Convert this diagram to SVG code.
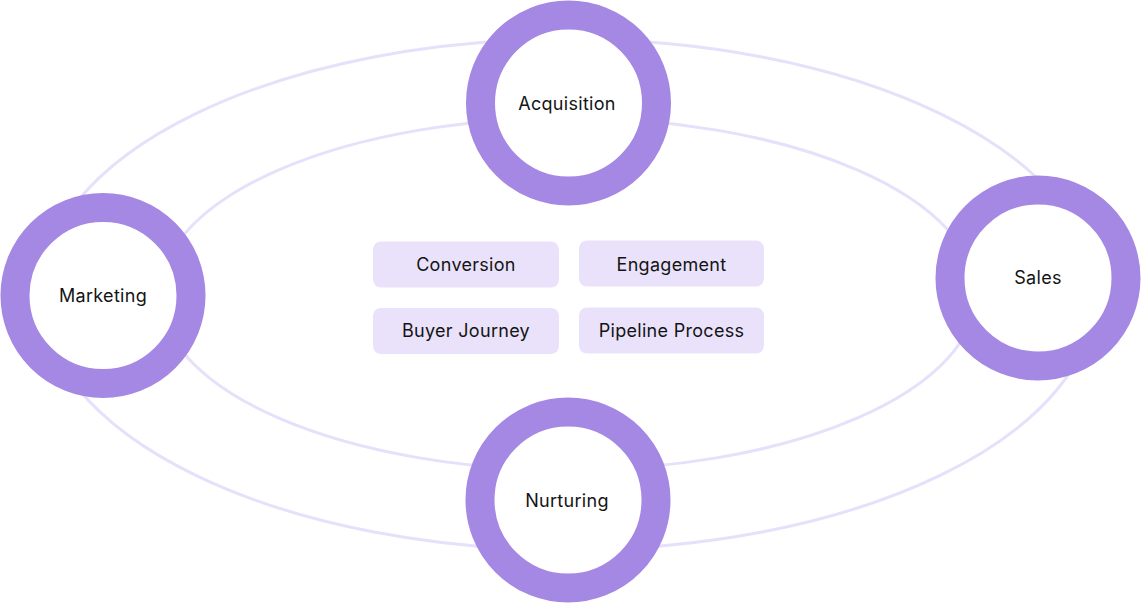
<svg xmlns="http://www.w3.org/2000/svg" width="1141" height="604" viewBox="0 0 1141 604">
<style>
.orbit{fill:none;stroke:#e6e0fa;stroke-width:3}
.ring{fill:#ffffff;stroke:#a488e4;stroke-width:29}
.lbl{font-family:Inter,"Noto Sans","Liberation Sans",sans-serif;font-size:18px;letter-spacing:0.3px;fill:#141414;text-anchor:middle}
.box{fill:#e9e2fa}
</style>
<rect width="1141" height="604" fill="#ffffff"/>
<g id="connectors">
<ellipse class="orbit" cx="568" cy="294.5" rx="527" ry="255.5"/>
<ellipse class="orbit" cx="568" cy="294" rx="408" ry="176"/>
</g>
<g id="acquisition">
<circle class="ring" cx="568.5" cy="103" r="88"/>
<text class="lbl" x="567" y="109.5">Acquisition</text>
</g>
<g id="marketing">
<circle class="ring" cx="103" cy="295.5" r="88"/>
<text class="lbl" x="103" y="301.5">Marketing</text>
</g>
<g id="sales">
<circle class="ring" cx="1038" cy="278" r="88"/>
<text class="lbl" x="1038" y="284.3">Sales</text>
</g>
<g id="nurturing">
<circle class="ring" cx="568" cy="500" r="88"/>
<text class="lbl" x="567" y="507">Nurturing</text>
</g>
<g id="conversion">
<rect class="box" x="373" y="241.5" width="186" height="46" rx="8"/>
<text class="lbl" x="466" y="271">Conversion</text>
</g>
<g id="engagement">
<rect class="box" x="579" y="240.5" width="185" height="46" rx="8"/>
<text class="lbl" x="671.5" y="270.5">Engagement</text>
</g>
<g id="buyer-journey">
<rect class="box" x="373" y="308" width="186" height="46" rx="8"/>
<text class="lbl" x="466" y="337.3">Buyer Journey</text>
</g>
<g id="pipeline-process">
<rect class="box" x="579" y="307.5" width="185" height="46" rx="8"/>
<text class="lbl" x="671.5" y="337">Pipeline Process</text>
</g>
</svg>
